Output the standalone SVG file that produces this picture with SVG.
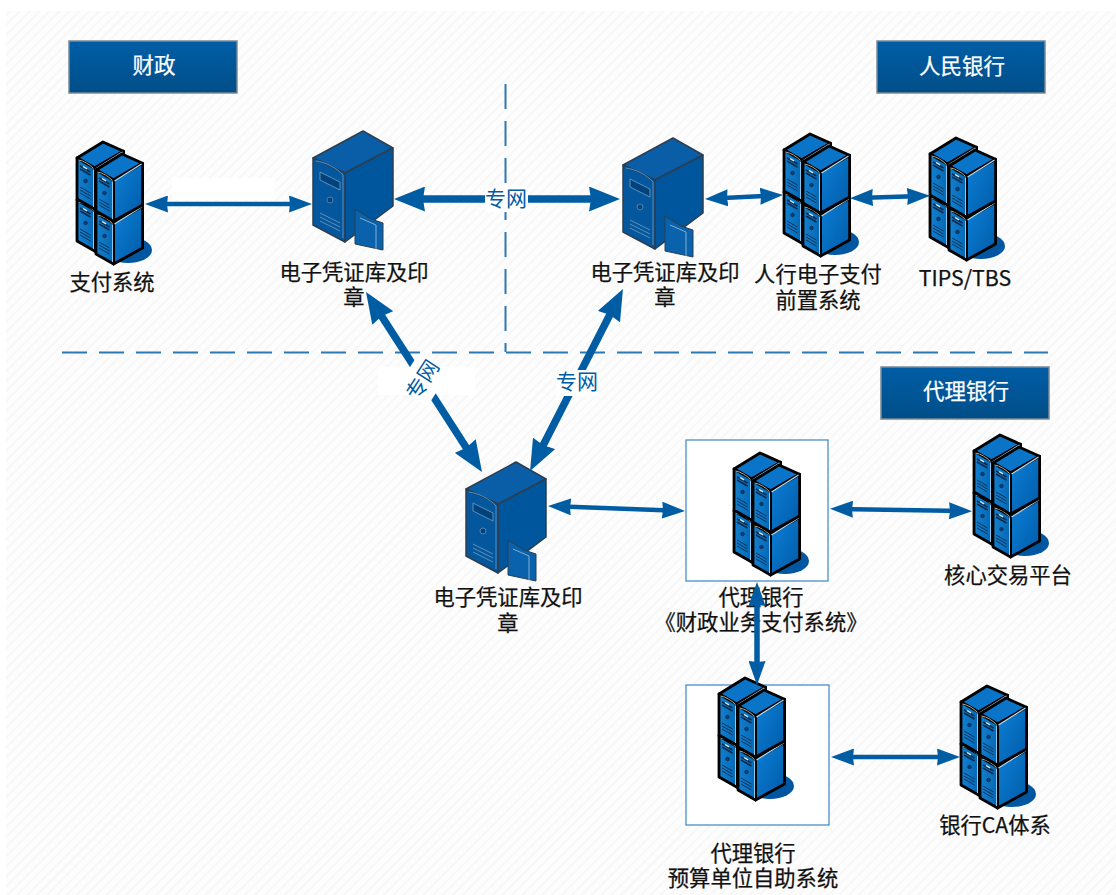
<svg xmlns="http://www.w3.org/2000/svg" xmlns:xlink="http://www.w3.org/1999/xlink" width="1116" height="895" viewBox="0 0 1116 895">
<style>
text{font-family:"Noto Sans CJK SC","Liberation Sans",sans-serif;font-size:21.3px;fill:#111;stroke:#111;stroke-width:.25;text-anchor:middle}
.hd{fill:#fff;stroke:#fff;font-size:21.5px}
.net{fill:#005CA3;stroke:none;font-size:21px}
.hbox{fill:url(#hg);stroke:#7b8a96;stroke-width:1.5}
.fbox{fill:#fff;stroke:#3a87c8;stroke-width:1.2}
.dash{stroke:#2a78b4;stroke-width:2;stroke-dasharray:25 12;fill:none}
.big{stroke:#005CA3;stroke-width:7.500;fill:none;marker-start:url(#ab);marker-end:url(#ab)}
.small{stroke:#005CA3;stroke-width:4.500;fill:none;marker-start:url(#as);marker-end:url(#as)}
.mid{stroke:#005CA3;stroke-width:5.500;fill:none;marker-start:url(#am);marker-end:url(#am)}
</style>
<defs>
<pattern id="hatch" width="7" height="7" patternUnits="userSpaceOnUse" patternTransform="rotate(-45)">
<rect width="7" height="7" fill="#fdfdfd"/><rect width="7" height="2" fill="#f7f7f7"/>
</pattern>
<linearGradient id="hg" x1="0" y1="0" x2="0" y2="1"><stop offset="0" stop-color="#005EA6"/><stop offset="1" stop-color="#004E88"/></linearGradient>
<linearGradient id="rf" x1="0" y1="0" x2="1" y2="1"><stop offset="0" stop-color="#0C80D8"/><stop offset="1" stop-color="#005AA6"/></linearGradient>
<linearGradient id="lf" x1="0" y1="0" x2="1" y2="0"><stop offset="0" stop-color="#1380D0"/><stop offset="1" stop-color="#0468B4"/></linearGradient>
<marker id="ab" markerUnits="userSpaceOnUse" viewBox="0 0 31 25" refX="19" refY="12.500" markerWidth="31" markerHeight="25" orient="auto-start-reverse"><path d="M0 0L31 12.500L0 25L2 12.500Z" fill="#005CA3"/></marker>
<marker id="am" markerUnits="userSpaceOnUse" viewBox="0 0 24 17" refX="14" refY="8.500" markerWidth="24" markerHeight="17" orient="auto-start-reverse"><path d="M0 0L24 8.500L0 17L1 8.500Z" fill="#005CA3"/></marker>
<marker id="as" markerUnits="userSpaceOnUse" viewBox="0 0 23 17" refX="15" refY="8.500" markerWidth="23" markerHeight="17" orient="auto-start-reverse"><path d="M0 0L23 8.500L0 17L1 8.500Z" fill="#005CA3"/></marker>
<g id="unit">
<path d="M0 0L26-16L46.6-6.7L17.6 10Z" fill="#0A74C8" stroke="#000" stroke-width="2.800" stroke-linejoin="round"/>
<path d="M17.6 10L46.6-6.7V35L17.6 51Z" fill="url(#rf)" stroke="#000" stroke-width="2.800" stroke-linejoin="round"/>
<path d="M0 0L17.6 10V51L0 41Z" fill="url(#lf)" stroke="#000" stroke-width="2.800" stroke-linejoin="round"/>
<path d="M18.500 11L45.500-6" fill="none" stroke="#b6def6" stroke-width="1.200"/>
<path d="M1.500 2C7 3 12 6 16.500 10.500" fill="none" stroke="#b9a98a" stroke-width="1"/>
<path d="M16.500 11.500V49" fill="none" stroke="#8cc8ee" stroke-width="1"/>
<path d="M3 8L13.500 14M3 11L13.500 17" stroke="#0b2a4a" stroke-width="1.600"/>
<path d="M6 8.500L10 10.800" stroke="#dcecf7" stroke-width="1.400"/>
<circle cx="8.500" cy="23" r="1.800" fill="#0b3f73" stroke="#08294a" stroke-width=".7"/>
<path d="M3 29L13.500 35M3 32L13.500 38M3 35L13.500 41" stroke="#0b2a4a" stroke-width=".9"/>
</g>
<g id="rack">
<ellipse cx="53" cy="108" rx="24" ry="13" fill="#0056A0"/>
<use xlink:href="#unit" x="2" y="58"/>
<use xlink:href="#unit" x="2" y="16"/>
<use xlink:href="#unit" x="21" y="71"/>
<use xlink:href="#unit" x="21" y="28"/>
</g>
<g id="tower">
<path d="M0 27L50 0L80 17L32 42Z" fill="#0A5EA8" stroke="#2c3e50" stroke-width="1.500" stroke-linejoin="round"/>
<path d="M32 42L80 17V75L32 111Z" fill="#00569C" stroke="#2c3e50" stroke-width="1.500" stroke-linejoin="round"/>
<path d="M0 27L32 42V111L0 94Z" fill="#04579C" stroke="#2c3e50" stroke-width="1.500" stroke-linejoin="round"/>
<path d="M3 30C12 31 24 37 30 44V107" fill="none" stroke="#4f90c5" stroke-width="1"/>
<path d="M7 41L27 51V59L7 49Z" fill="#00427C" stroke="#5e90b8" stroke-width="1"/>
<circle cx="17" cy="69" r="3" fill="#00427C" stroke="#5e90b8" stroke-width=".8"/>
<path d="M7 82L27 92M7 86L27 96M7 90L27 100" stroke="#5e90b8" stroke-width="1"/>
<path d="M42 78L58 88L70 92V119L42 113Z" fill="#0A62AC" stroke="#2c3e50" stroke-width="1"/>
<path d="M47 87L63 94V118" fill="none" stroke="#7fb0d4" stroke-width="1"/>
</g>
</defs>
<rect width="1116" height="895" fill="#fff"/>
<rect x="6" y="11" width="1110" height="884" fill="url(#hatch)"/>
<rect x="172" y="178" width="103" height="22" fill="#fff"/>
<rect x="378" y="367" width="97" height="28" fill="#fff"/>
<g id="dashes">
<path class="dash" d="M62 352.500H1048"/>
<path class="dash" d="M505.500 84V352"/>
</g>
<g id="h-caizheng"><rect class="hbox" x="69" y="41" width="168" height="52"/><text class="hd" x="154" y="73">财政</text></g>
<g id="h-renmin"><rect class="hbox" x="877" y="41" width="168" height="52"/><text class="hd" x="962" y="74">人民银行</text></g>
<g id="h-daili"><rect class="hbox" x="881" y="367" width="168" height="52"/><text class="hd" x="966" y="399">代理银行</text></g>
<g id="n-box1"><rect class="fbox" x="686" y="440" width="142" height="141"/></g>
<g id="n-box2"><rect class="fbox" x="686" y="685" width="143" height="140"/></g>
<g id="n-pay"><use xlink:href="#rack" x="75" y="142"/><text x="112" y="290">支付系统</text></g>
<g id="n-store1"><use xlink:href="#tower" x="313" y="131"/><text x="354" y="280">电子凭证库及印</text><text x="354" y="305">章</text></g>
<g id="n-store2"><use xlink:href="#tower" x="623" y="138"/><text x="665" y="280">电子凭证库及印</text><text x="665" y="305">章</text></g>
<g id="n-front"><use xlink:href="#rack" x="782" y="134"/><text x="818" y="282">人行电子支付</text><text x="818" y="308">前置系统</text></g>
<g id="n-tips"><use xlink:href="#rack" x="928" y="138"/><text x="965" y="286">TIPS/TBS</text></g>
<g id="n-store3"><use xlink:href="#tower" x="466" y="462"/><text x="508" y="605">电子凭证库及印</text><text x="508" y="631">章</text></g>
<g id="n-agent"><use xlink:href="#rack" x="732" y="453"/><text x="761" y="605">代理银行</text><text x="761" y="630">《财政业务支付系统》</text></g>
<g id="n-core"><use xlink:href="#rack" x="972" y="435"/><text x="1008" y="583">核心交易平台</text></g>
<g id="n-budget"><use xlink:href="#rack" x="717" y="678"/><text x="753" y="861">代理银行</text><text x="753" y="886">预算单位自助系统</text></g>
<g id="n-ca"><use xlink:href="#rack" x="959" y="686"/><text x="995" y="833">银行CA体系</text></g>
<g id="connectors">
<path class="small" d="M153 204H304"/>
<path class="big" d="M406 199H608"/>
<path class="small" d="M713 198.600L775 195.400"/>
<path class="small" d="M858 198L922 196"/>
<path class="big" d="M372.500 302L475.500 462"/>
<path class="big" d="M617.500 299.700L535.500 460.300"/>
<path class="small" d="M556 506.300L677 510.700"/>
<path class="small" d="M838 509L964 511"/>
<path class="mid" d="M757 592V675"/>
<path class="small" d="M839 757H952"/>
</g>
<g id="net-labels">
<rect x="485" y="186" width="43" height="26" fill="#fff"/>
<text class="net" x="506" y="206">专网</text>
<rect x="403" y="362" width="40" height="36" fill="#fff" transform="rotate(-57 423 380)"/>
<text class="net" x="423" y="387" transform="rotate(-57 423 380)">专网</text>
<rect x="556" y="370" width="42" height="26" fill="#fff"/>
<text class="net" x="577" y="389">专网</text>
</g>
</svg>
